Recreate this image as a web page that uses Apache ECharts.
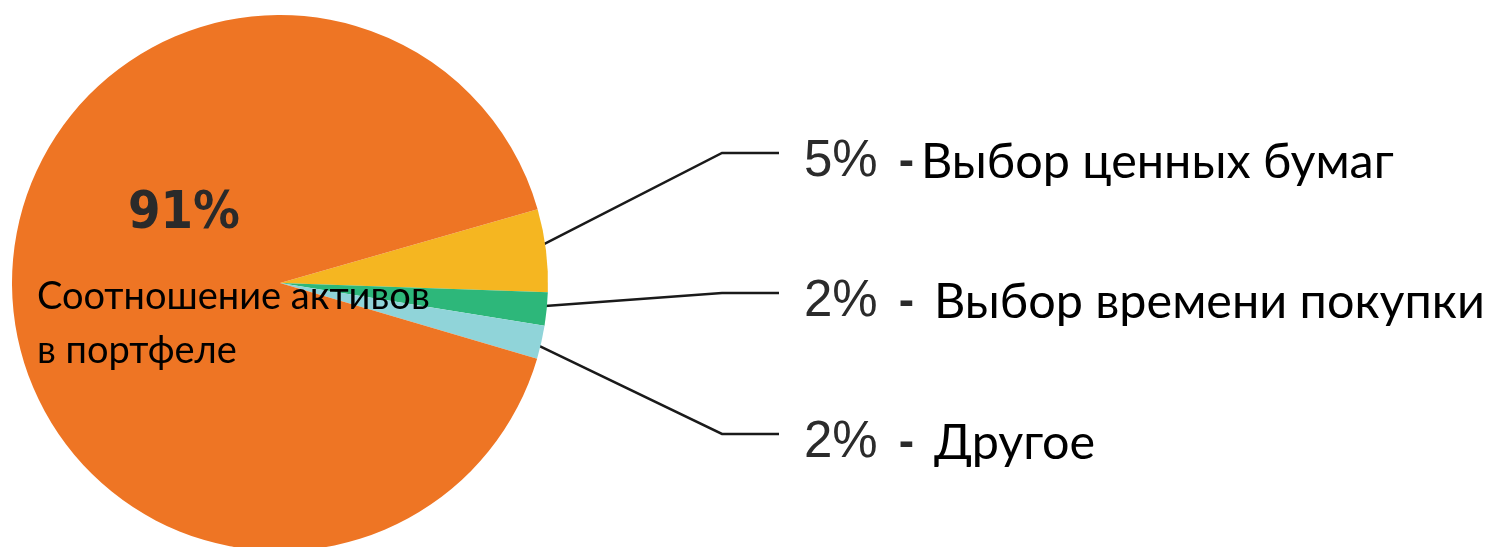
<!DOCTYPE html>
<html>
<head>
<meta charset="utf-8">
<script src="https://cdn.jsdelivr.net/npm/echarts@6/dist/echarts.min.js"></script>
<style>
  html, body { margin: 0; padding: 0; background: #fff; }
  #main { width: 1501px; height: 547px; }
</style>
</head>
<body>
<div id="main"></div>
<script>
// data
var names = ['Выбор ценных бумаг', 'Выбор времени покупки', 'Другое', 'Соотношение активов в портфеле'];
var values = [5, 2, 2, 91];
var colors = ['#F5B621', '#2DB77A', '#90D4D9', '#EE7524'];

var chartDom = document.getElementById('main');
var myChart = echarts.init(chartDom);

var cx = 280, cy = 283, R = 268, startAngle = 16;
var labelYs = [153, 293, 434]; // where the leader lines end
var total = values.reduce(function (a, b) { return a + b; }, 0);

function midAngle(i) {
  var acc = 0;
  for (var k = 0; k < i; k++) acc += values[k];
  var a = startAngle - (acc + values[i] / 2) / total * 360;
  return a * Math.PI / 180;
}

var option = {
  animation: false,
  graphic: [
    {
      type: 'text', left: 128, top: 188, z: 100,
      style: { text: '91%', font: 'bold 52px "DejaVu Sans Condensed"', fill: '#2a2a2a' }
    },
    {
      type: 'text', left: 37, top: 270, z: 100,
      style: {
        text: 'Соотношение активов\nв портфеле',
        font: '38px Lato', lineHeight: 54, fill: '#000'
      }
    }
  ],
  series: [
    {
      type: 'pie',
      center: [cx, cy],
      radius: R,
      startAngle: startAngle,
      clockwise: true,
      data: names.map(function (n, i) {
        var item = { name: n, value: values[i], itemStyle: { color: colors[i] } };
        if (i === 3) {
          item.label = { show: false };
          item.labelLine = { show: false };
        }
        return item;
      }),
      label: {
        show: true,
        formatter: function (p) {
          var d = p.dataIndex === 0 ? 'd1' : 'd2';
          return '{v|' + p.value + '%}{' + d + '|-}{t|' + p.name + '}';
        },
        rich: {
          v: { fontFamily: 'Liberation Sans', fontSize: 51, color: '#2b2b2b' },
          d1: { fontFamily: 'Liberation Sans', fontWeight: 'bold', fontSize: 46, color: '#2b2b2b', padding: [0, 7, 0, 21] },
          d2: { fontFamily: 'Liberation Sans', fontWeight: 'bold', fontSize: 46, color: '#2b2b2b', padding: [0, 20, 0, 21] },
          t: { fontFamily: 'Lato', fontSize: 48.5, color: '#000' }
        }
      },
      labelLine: {
        show: true,
        showAbove: true,
        lineStyle: { color: '#1a1a1a', width: 2.5 }
      },
      labelLayout: function (params) {
        var i = params.dataIndex;
        if (i > 2) return {};
        var a = midAngle(i);
        var y = labelYs[i];
        return {
          x: 804,
          y: y + 9,
          align: 'left',
          verticalAlign: 'middle',
          labelLinePoints: [
            [cx + R * 0.93 * Math.cos(a), cy - R * 0.93 * Math.sin(a)],
            [722, y],
            [779, y]
          ]
        };
      }
    }
  ]
};

myChart.setOption(option);
</script>
</body>
</html>
